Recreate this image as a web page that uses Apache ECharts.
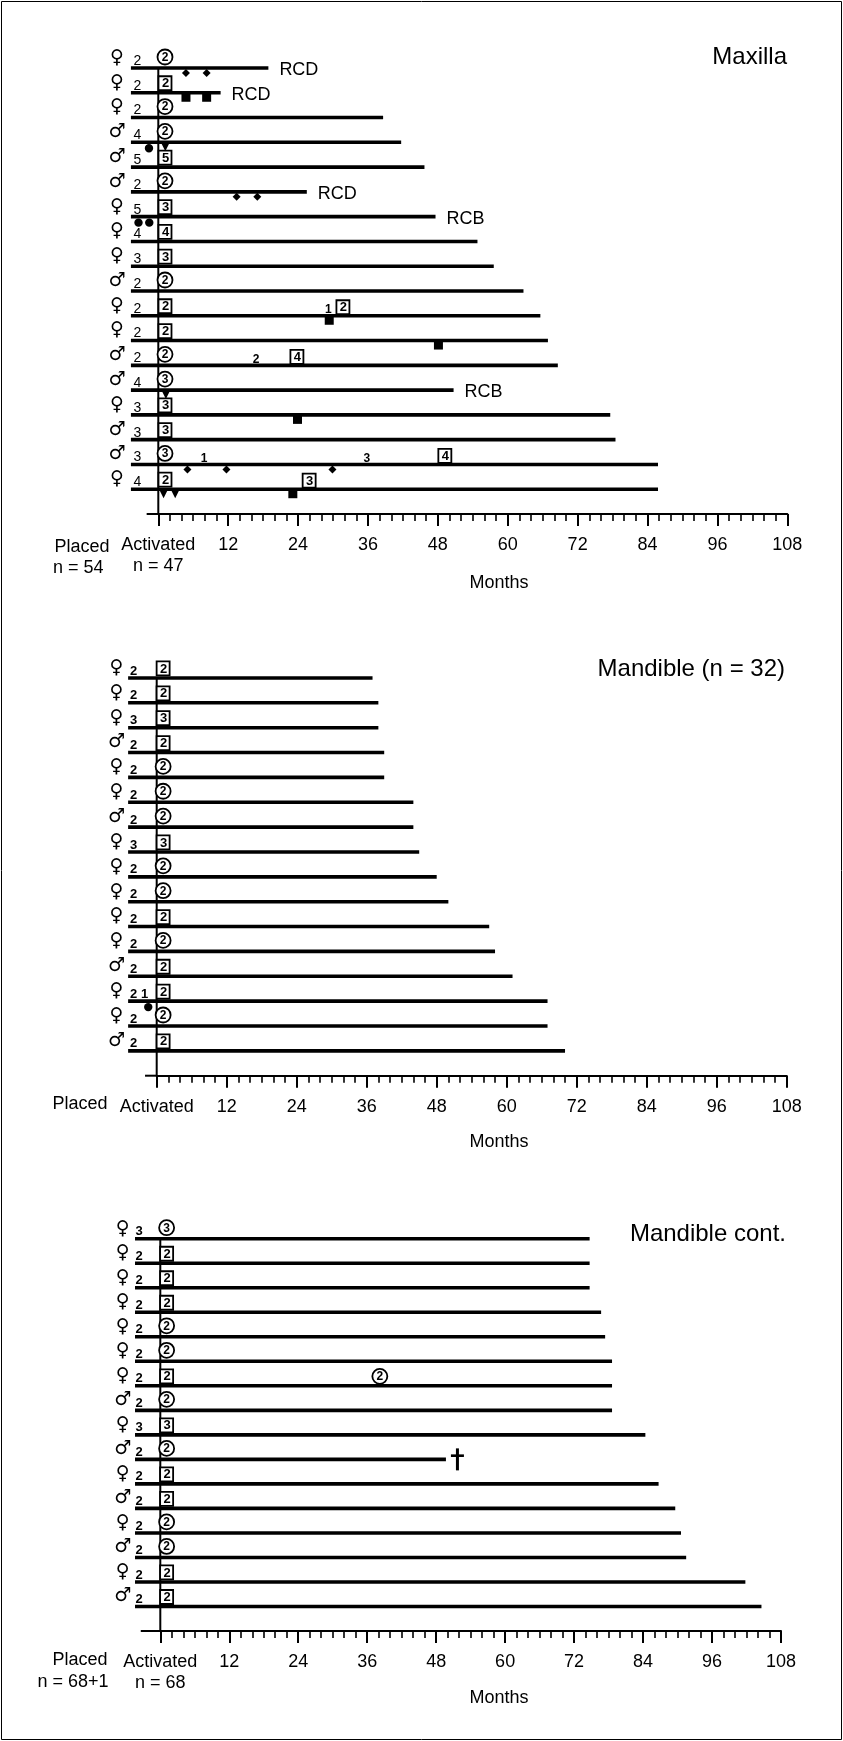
<!DOCTYPE html>
<html><head><meta charset="utf-8">
<script src="https://cdn.jsdelivr.net/npm/echarts@6/dist/echarts.min.js"></script>
<style>html,body{margin:0;padding:0;background:#fff}#c{width:843px;height:1741px}</style>
</head><body><div id="c"></div>
<script>
// ---------- DATA ----------
const tickLabels = ['Activated', '12', '24', '36', '48', '60', '72', '84', '96', '108'];

// Maxilla
const maxSex = ['♀','♀','♀','♂','♂','♂','♀','♀','♀','♂','♀','♀','♂','♂','♀','♂','♂','♀'];
const maxPlaced = [2,2,2,4,5,2,5,4,3,2,2,2,2,4,3,3,3,4];
const maxActNum = [2,2,2,2,5,2,3,4,3,2,2,2,2,3,3,3,3,2];
const maxActShape = ['c','s','c','c','s','c','s','s','s','c','s','s','c','c','s','s','c','s'];
const maxEnd = [18.9,10.7,38.6,41.7,45.7,25.5,47.6,54.8,57.6,62.7,65.6,66.9,68.6,50.7,77.6,78.5,85.8,85.8];
const maxNote = ['RCD','RCD','','','','RCD','RCB','','','','','','','RCB','','','',''];
const maxDiamonds = [[4.75,0],[8.3,0],[13.45,5],[17.0,5],[5.0,16],[11.7,16],[29.9,16]];
const maxSquares = [[4.75,1],[8.3,1],[29.35,10],[48.1,11],[23.9,14],[23.1,17]];
const maxTriangles = [[1.2,3],[1.3,13],[0.9,17],[2.9,17]];
const maxDots = [[-1.6,3],[-3.4,6],[-1.55,6]];
const maxNums = [[29.2,10,'1'],[16.8,12,'2'],[7.85,16,'1'],[35.8,16,'3']];
const maxBoxes = [[31.7,10,'2'],[23.8,12,'4'],[49.2,16,'4'],[25.9,17,'3']];

// Mandible
const manSex = ['♀','♀','♀','♂','♀','♀','♂','♀','♀','♀','♀','♀','♂','♀','♀','♂'];
const manPlaced = ['2','2','3','2','2','2','2','3','2','2','2','2','2','2 1','2','2'];
const manActNum = [2,2,3,2,2,2,2,3,2,2,2,2,2,2,2,2];
const manActShape = ['s','s','s','s','c','c','c','s','c','c','s','c','s','s','c','s'];
const manEnd = [37,38,38,39,39,44,44,45,48,50,57,58,61,67,67,70];
const manDots = [[-1.45,13]];

// Mandible cont.
const conSex = ['♀','♀','♀','♀','♀','♀','♀','♂','♀','♂','♀','♂','♀','♂','♀','♂'];
const conPlaced = ['3','2','2','2','2','2','2','2','3','2','2','2','2','2','2','2'];
const conActNum = [3,2,2,2,2,2,2,2,3,2,2,2,2,2,2,2];
const conActShape = ['c','s','s','s','c','c','s','c','s','c','s','s','c','c','s','s'];
const conEnd = [74.7,74.7,74.7,76.7,77.4,78.6,78.6,78.6,84.4,49.7,86.7,89.6,90.6,91.5,101.8,104.6];
const conCircles = [[38.2,6,'2']];
const conDaggers = [[51.7,9]];

// ---------- RENDERING ----------
const FONT = "'Liberation Sans', Arial, sans-serif";
const SYMFONT = "'DejaVu Sans', sans-serif";

function txt(x, y, text, font, align) {
  return {type:'text', style:{text:text, x:x, y:y, font:font, fill:'#000',
    align:align||'center', verticalAlign:'middle', textAlign:align||'center', textVerticalAlign:'middle'}};
}
function boxLabel(x, y, d) {
  return {type:'group', children:[
    {type:'rect', shape:{x:x-6.5, y:y-7, width:13, height:14}, style:{fill:'#fff', stroke:'#000', lineWidth:1.8}},
    txt(x+0.5, y+0.5, String(d), 'bold 13px ' + FONT)
  ]};
}
function circLabel(x, y, d) {
  return {type:'group', children:[
    {type:'circle', shape:{cx:x, cy:y, r:7.5}, style:{fill:'#fff', stroke:'#000', lineWidth:1.8}},
    txt(x, y+0.5, String(d), 'bold 12px ' + FONT)
  ]};
}

function rowSeries(gi, cfg) {
  const data = cfg.end.map((e, i) => [e, i]);
  return {
    type:'custom', xAxisIndex:gi, yAxisIndex:gi, clip:false, silent:true, z:2,
    data: data,
    renderItem: function(params, api) {
      const i = params.dataIndex;
      const a = api.coord([cfg.lineStart, i]);
      const b = api.coord([api.value(0), i]);
      const act = api.coord([cfg.actX, i]);
      const ch = [];
      ch.push({type:'line', shape:{x1:a[0], y1:a[1], x2:b[0], y2:b[1]}, style:{stroke:'#000', lineWidth:3.6}});
      ch.push(txt(a[0] + cfg.sexDx, a[1] - 10, cfg.sex[i], '19px ' + SYMFONT));
      ch.push(txt(a[0] + cfg.numDx, a[1] - 7, String(cfg.placed[i]), cfg.numFont, 'left'));
      if (cfg.shape[i] === 'c') ch.push(circLabel(act[0], act[1] - 11, cfg.act[i]));
      else ch.push(boxLabel(act[0], act[1] - 9.5, cfg.act[i]));
      if (cfg.note && cfg.note[i]) ch.push(txt(b[0] + 11, b[1] + 2, cfg.note[i], '18px ' + FONT, 'left'));
      return {type:'group', children:ch};
    }
  };
}
function frameSeries(gi, n, stubStart) {
  return {
    type:'custom', xAxisIndex:gi, yAxisIndex:gi, clip:false, silent:true, z:1,
    data:[[0, n]],
    renderItem: function(params, api) {
      const top = api.coord([0, 0]);
      const bot = api.coord([0, n]);
      const st = api.coord([stubStart, n]);
      return {type:'group', children:[
        {type:'line', shape:{x1:top[0], y1:top[1], x2:bot[0], y2:bot[1]}, style:{stroke:'#000', lineWidth:2}},
        {type:'line', shape:{x1:st[0], y1:st[1], x2:bot[0], y2:bot[1]}, style:{stroke:'#000', lineWidth:2}}
      ]};
    }
  };
}
function markSeries(gi, data, kind) {
  return {
    type:'custom', xAxisIndex:gi, yAxisIndex:gi, clip:false, silent:true, z:3,
    data: data,
    renderItem: function(params, api) {
      const p = api.coord([api.value(0), api.value(1)]);
      const x = p[0], y = p[1];
      const st = {fill:'#000'};
      const item = data[params.dataIndex];
      switch (kind) {
        case 'diamond': return {type:'polygon', shape:{points:[[x,y+1],[x+4,y+5],[x,y+9],[x-4,y+5]]}, style:st};
        case 'square': return {type:'rect', shape:{x:x-4.5, y:y+1, width:9, height:8}, style:st};
        case 'tri': return {type:'polygon', shape:{points:[[x-4.5,y],[x+4.5,y],[x,y+9]]}, style:st};
        case 'dot': return {type:'circle', shape:{cx:x, cy:y+6, r:4.2}, style:st};
        case 'num': return txt(x, y-6, item[2], 'bold 12px ' + FONT);
        case 'box': return boxLabel(x, y-8.5, item[2]);
        case 'circ': return circLabel(x, y-9.5, item[2]);
        case 'dagger': return {type:'group', children:[
          {type:'rect', shape:{x:x-1.5, y:y-11, width:3, height:22}, style:st},
          {type:'rect', shape:{x:x-6.5, y:y-5, width:13, height:2.6}, style:st}]};
      }
    }
  };
}

function xAxisCfg(gi, zeroLabel) {
  return {
    type:'value', gridIndex:gi, min:0, max:108, interval:12, position:'bottom',
    axisLine:{show:true, onZero:false, lineStyle:{color:'#000', width:2}},
    axisTick:{show:true, length:12, lineStyle:{color:'#000', width:2}},
    minorTick:{show:true, splitNumber:6, length:7, lineStyle:{color:'#000', width:1.6}},
    splitLine:{show:false}, minorSplitLine:{show:false},
    axisLabel:{show:true, margin:21, color:'#000', fontFamily:FONT, fontSize:18, lineHeight:21,
      formatter: function(v){ const k = Math.round(v/12); return k === 0 ? zeroLabel : tickLabels[k]; }}
  };
}
function yAxisCfg(gi, n) {
  return {type:'value', gridIndex:gi, inverse:true, min:-1, max:n, show:false};
}

const cfgMax = {sex:maxSex, placed:maxPlaced, act:maxActNum, shape:maxActShape, end:maxEnd, note:maxNote,
  lineStart:-4.7, actX:1.15, sexDx:-14, numDx:2.5, numFont:'14px ' + FONT};
const cfgMan = {sex:manSex, placed:manPlaced, act:manActNum, shape:manActShape, end:manEnd,
  lineStart:-4.9, actX:1.1, sexDx:-11.6, numDx:2, numFont:'bold 13px ' + FONT};
const cfgCon = {sex:conSex, placed:conPlaced, act:conActNum, shape:conActShape, end:conEnd,
  lineStart:-4.4, actX:1.1, sexDx:-12.3, numDx:0.5, numFont:'bold 13px ' + FONT};

const chart = echarts.init(document.getElementById('c'), null, {renderer:'canvas'});
const T = (text, x, y, size, align) => ({type:'text', x:x, y:y, style:{text:text, x:0, y:0,
  font:size + 'px ' + FONT, fill:'#000', align:align||'center', verticalAlign:'middle', textAlign:align||'center', textVerticalAlign:'middle'}});

chart.setOption({
  animation:false,
  backgroundColor:'#fff',
  grid:[
    {left:158.3, top:43.2, width:629, height:470.8},
    {left:156.7, top:653.1, width:630, height:422.6},
    {left:160.3, top:1214.2, width:620.7, height:416.8}
  ],
  xAxis:[xAxisCfg(0,'Activated\nn = 47'), xAxisCfg(1,'Activated'), xAxisCfg(2,'Activated\nn = 68')],
  yAxis:[yAxisCfg(0,18), yAxisCfg(1,16), yAxisCfg(2,16)],
  graphic:[
    {type:'rect', shape:{x:1.5, y:1.5, width:840, height:1738}, style:{fill:'none', stroke:'#000', lineWidth:1}},
    T('Maxilla', 787, 57, 24, 'right'),
    T('Mandible (n = 32)', 785, 669, 24, 'right'),
    T('Mandible cont.', 786, 1234, 24, 'right'),
    T('Placed', 82, 547, 18), T('n = 54', 53, 568, 18, 'left'), T('Months', 499, 583, 18),
    T('Placed', 80, 1104, 18), T('Months', 499, 1142, 18),
    T('Placed', 80, 1660, 18), T('n = 68+1', 73, 1682, 18), T('Months', 499, 1698, 18)
  ],
  series:[
    frameSeries(0, 18, -2), rowSeries(0, cfgMax),
    markSeries(0, maxDiamonds, 'diamond'), markSeries(0, maxSquares, 'square'),
    markSeries(0, maxTriangles, 'tri'), markSeries(0, maxDots, 'dot'),
    markSeries(0, maxNums, 'num'), markSeries(0, maxBoxes, 'box'),
    frameSeries(1, 16, -2), rowSeries(1, cfgMan), markSeries(1, manDots, 'dot'),
    frameSeries(2, 16, -3.4), rowSeries(2, cfgCon),
    markSeries(2, conCircles, 'circ'), markSeries(2, conDaggers, 'dagger')
  ]
});
</script>
</body></html>
